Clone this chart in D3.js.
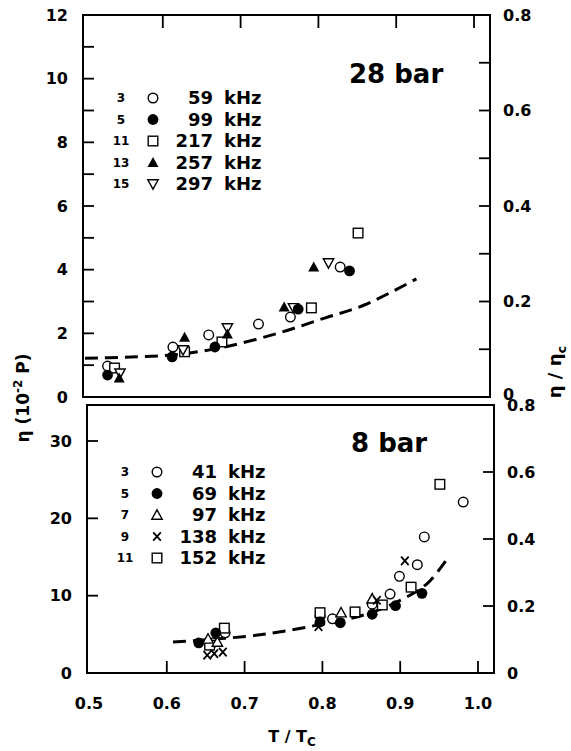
<!DOCTYPE html>
<html><head><meta charset="utf-8">
<script src="https://cdn.jsdelivr.net/npm/d3@7"></script>
<style>
html,body{margin:0;padding:0;background:#fff;}
svg{display:block;}
text{font-family:"DejaVu Sans",sans-serif;font-weight:bold;fill:#000;}
</style></head>
<body>
<script>
// ---------- data ----------
const xTicks = [0.5, 0.6, 0.7, 0.8, 0.9, 1.0];
const xTickLabels = ["0.5", "0.6", "0.7", "0.8", "0.9", "1.0"];

// 28 bar panel
const topLeftTicks = [0, 2, 4, 6, 8, 10, 12];
const topLeftMinor = [1, 3, 5, 7, 9, 11];
const topRightTicks = [0, 0.2, 0.4, 0.6, 0.8];
const topRightMinor = [0.1, 0.3, 0.5, 0.7];
const topLegendHarm = ["3", "5", "11", "13", "15"];
const topLegendFreq = ["59", "99", "217", "257", "297"];
const topSymbols = ["circleOpen", "circleFilled", "squareOpen", "triangleFilled", "triangleDownOpen"];
const t28_59T = [0.529, 0.613, 0.659, 0.723, 0.764, 0.828];
const t28_59E = [0.97, 1.57, 1.95, 2.29, 2.51, 4.08];
const t28_99T = [0.529, 0.612, 0.667, 0.774, 0.840];
const t28_99E = [0.69, 1.26, 1.57, 2.76, 3.96];
const t28_217T = [0.538, 0.628, 0.676, 0.791, 0.851];
const t28_217E = [0.91, 1.42, 1.73, 2.80, 5.15];
const t28_257T = [0.544, 0.628, 0.683, 0.756, 0.794];
const t28_257E = [0.60, 1.88, 1.98, 2.83, 4.08];
const t28_297T = [0.545, 0.626, 0.683, 0.768, 0.813];
const t28_297E = [0.75, 1.48, 2.17, 2.80, 4.21];
const fit28T = [0.50, 0.55, 0.612, 0.679, 0.749, 0.808, 0.859, 0.926];
const fit28E = [1.22, 1.25, 1.32, 1.57, 2.01, 2.48, 2.89, 3.71];

// 8 bar panel
const botLeftTicks = [0, 10, 20, 30];
const botRightTicks = [0, 0.2, 0.4, 0.6, 0.8];
const botLegendHarm = ["3", "5", "7", "9", "11"];
const botLegendFreq = ["41", "69", "97", "138", "152"];
const botSymbols = ["circleOpen", "circleFilled", "triangleOpen", "cross", "squareOpen"];
const t8_41T = [0.659, 0.675, 0.797, 0.813, 0.864, 0.887, 0.899, 0.922, 0.931, 0.981];
const t8_41E = [3.9, 5.2, 7.4, 7.0, 8.9, 10.2, 12.5, 14.0, 17.6, 22.1];
const t8_69T = [0.641, 0.663, 0.797, 0.823, 0.864, 0.894, 0.928];
const t8_69E = [3.9, 5.2, 6.6, 6.5, 7.6, 8.7, 10.3];
const t8_97T = [0.653, 0.665, 0.824, 0.864];
const t8_97E = [4.4, 4.0, 7.8, 9.6];
const t8_138T = [0.652, 0.661, 0.672, 0.795, 0.870, 0.906];
const t8_138E = [2.3, 2.5, 2.7, 6.0, 9.4, 14.5];
const t8_152T = [0.655, 0.674, 0.797, 0.842, 0.877, 0.914, 0.951];
const t8_152E = [3.6, 5.8, 7.8, 7.9, 8.8, 11.1, 24.4];
const fit8T = [0.608, 0.717, 0.794, 0.853, 0.900, 0.935, 0.962];
const fit8E = [4.0, 4.9, 6.2, 7.5, 9.4, 11.6, 15.0];

// ---------- layout ----------
const W = 571, H = 751;
const svg = d3.select("body").append("svg").attr("width", W).attr("height", H);
const FL = 87, FR = 494;
const x = d3.scaleLinear().domain([0.5, 1.0]).range([89, 478]);

const topBox = {t: 15, b: 397};
const botBox = {t: 405, b: 673};
const yTop = d3.scaleLinear().domain([0, 12]).range([topBox.b, topBox.t]);
const yTopR = d3.scaleLinear().domain([0, 0.8]).range([topBox.b, topBox.t]);
const yBot = d3.scaleLinear().domain([0, 30]).range([botBox.b, 441]);
const yBotR = d3.scaleLinear().domain([0, 0.8]).range([botBox.b, botBox.t]);

function marker(g, type, cx, cy) {
  const s = g.append("g").attr("transform", `translate(${cx},${cy})`);
  const sw = 1.4;
  if (type === "circleOpen") s.append("circle").attr("r", 4.8).attr("fill", "#fff").attr("stroke", "#000").attr("stroke-width", sw);
  else if (type === "circleFilled") s.append("circle").attr("r", 5.4).attr("fill", "#000");
  else if (type === "squareOpen") s.append("rect").attr("x", -4.8).attr("y", -4.8).attr("width", 9.6).attr("height", 9.6).attr("fill", "#fff").attr("stroke", "#000").attr("stroke-width", sw);
  else if (type === "triangleFilled") s.append("path").attr("d", "M0,-5.5L5.5,4.5L-5.5,4.5Z").attr("fill", "#000");
  else if (type === "triangleOpen") s.append("path").attr("d", "M0,-5.2L5.2,4.2L-5.2,4.2Z").attr("fill", "#fff").attr("stroke", "#000").attr("stroke-width", sw);
  else if (type === "triangleDownOpen") s.append("path").attr("d", "M0,5.2L5.2,-4.2L-5.2,-4.2Z").attr("fill", "#fff").attr("stroke", "#000").attr("stroke-width", sw);
  else if (type === "cross") s.append("path").attr("d", "M-3.8,-4.2L3.8,4.2M3.8,-4.2L-3.8,4.2").attr("fill", "none").attr("stroke", "#000").attr("stroke-width", 1.8);
}

function drawPanel(g, box, yL, yR, leftMaj, leftMin, leftLbl, rightMaj, rightMin, series, fitT, fitE, legH, legF, legSym, legY, title, titleX, titleY, xTickSide, rightZeroDy) {
  const line = d3.line().x(d => x(d[0])).y(d => yL(d[1])).curve(d3.curveCatmullRom);
  g.append("path").datum(fitT.map((t, i) => [t, fitE[i]])).attr("d", line)
    .attr("fill", "none").attr("stroke", "#000").attr("stroke-width", 3).attr("stroke-dasharray", "13,7");
  series.forEach(s => s.T.forEach((t, i) => marker(g, s.sym, x(t), yL(s.E[i]))));
  g.append("rect").attr("x", FL).attr("y", box.t).attr("width", FR - FL).attr("height", box.b - box.t)
    .attr("fill", "none").attr("stroke", "#000").attr("stroke-width", 2);
  leftMaj.concat(leftMin).forEach(v => {
    if (yL(v) <= box.t + 1 || yL(v) >= box.b - 1) return;
    g.append("line").attr("x1", FL).attr("x2", FL + 11).attr("y1", yL(v)).attr("y2", yL(v)).attr("stroke", "#000").attr("stroke-width", 1.8);
  });
  leftLbl.forEach(v => g.append("text").attr("x", 72).attr("y", yL(v)).attr("dy", "0.36em")
    .attr("text-anchor", "end").attr("font-size", 16).text(v));
  rightMaj.concat(rightMin).forEach(v => {
    if (yR(v) <= box.t + 1 || yR(v) >= box.b - 1) return;
    g.append("line").attr("x1", FR - 11).attr("x2", FR).attr("y1", yR(v)).attr("y2", yR(v)).attr("stroke", "#000").attr("stroke-width", 1.8);
  });
  rightMaj.forEach(v => g.append("text").attr("x", FR + 13).attr("y", yR(v) + (v === 0 ? rightZeroDy : 0)).attr("dy", "0.36em")
    .attr("font-size", 16).text(v === 0 ? "0" : v.toFixed(1)));
  xTicks.slice(1).forEach(v => {
    if (xTickSide === "top") g.append("line").attr("x1", x(v)).attr("x2", x(v)).attr("y1", box.t).attr("y2", box.t + 13).attr("stroke", "#000").attr("stroke-width", 1.8);
    else g.append("line").attr("x1", x(v)).attr("x2", x(v)).attr("y1", box.b - 12).attr("y2", box.b).attr("stroke", "#000").attr("stroke-width", 1.8);
  });
  legH.forEach((h, i) => {
    const yy = legY + i * 21.5;
    g.append("text").attr("x", 125).attr("y", yy).attr("dy", "0.36em").attr("text-anchor", "middle").attr("font-size", 12).text(h);
    marker(g, legSym[i], 157, yy);
    g.append("text").attr("x", 217).attr("y", yy).attr("dy", "0.36em").attr("text-anchor", "end").attr("font-size", 18).text(legF[i]);
    g.append("text").attr("x", 228).attr("y", yy).attr("dy", "0.36em").attr("font-size", 18).text("kHz");
  });
  g.append("text").attr("x", titleX).attr("y", titleY).attr("font-size", 26).text(title);
}

const gTop = svg.append("g").attr("transform", "translate(-4,0)");
drawPanel(gTop, topBox, yTop, yTopR, topLeftTicks, topLeftMinor, topLeftTicks, topRightTicks, topRightMinor,
  [
    {sym: "circleOpen", T: t28_59T, E: t28_59E},
    {sym: "squareOpen", T: t28_217T, E: t28_217E},
    {sym: "triangleDownOpen", T: t28_297T, E: t28_297E},
    {sym: "circleFilled", T: t28_99T, E: t28_99E},
    {sym: "triangleFilled", T: t28_257T, E: t28_257E}
  ], fit28T, fit28E, topLegendHarm, topLegendFreq, topSymbols, 98, "28 bar", 353, 83, "top", -3);

const gBot = svg.append("g");
drawPanel(gBot, botBox, yBot, yBotR, botLeftTicks, [], botLeftTicks, botRightTicks, [],
  [
    {sym: "circleOpen", T: t8_41T, E: t8_41E},
    {sym: "squareOpen", T: t8_152T, E: t8_152E},
    {sym: "triangleOpen", T: t8_97T, E: t8_97E},
    {sym: "cross", T: t8_138T, E: t8_138E},
    {sym: "circleFilled", T: t8_69T, E: t8_69E}
  ], fit8T, fit8E, botLegendHarm, botLegendFreq, botSymbols, 472, "8 bar", 351, 452, "bottom", 0);

xTicks.forEach((v, i) => svg.append("text").attr("x", x(v)).attr("y", 703).attr("dy", "0.36em")
  .attr("text-anchor", "middle").attr("font-size", 16).text(xTickLabels[i]));

const xt = svg.append("text").attr("x", 292).attr("y", 742).attr("text-anchor", "middle").attr("font-size", 16);
xt.append("tspan").text("T / T");
xt.append("tspan").attr("font-size", 12).attr("dy", 4).text("C");

const yl = svg.append("text").attr("transform", "translate(29,398) rotate(-90)").attr("text-anchor", "middle").attr("font-size", 17);
yl.append("tspan").text("η (10");
yl.append("tspan").attr("font-size", 12).attr("dy", -7).text("-2");
yl.append("tspan").attr("dy", 7).text(" P)");

const yr = svg.append("text").attr("transform", "translate(561,372) rotate(-90)").attr("text-anchor", "middle").attr("font-size", 18);
yr.append("tspan").text("η / η");
yr.append("tspan").attr("font-size", 13).attr("dy", 5).text("c");
</script>
</body></html>
